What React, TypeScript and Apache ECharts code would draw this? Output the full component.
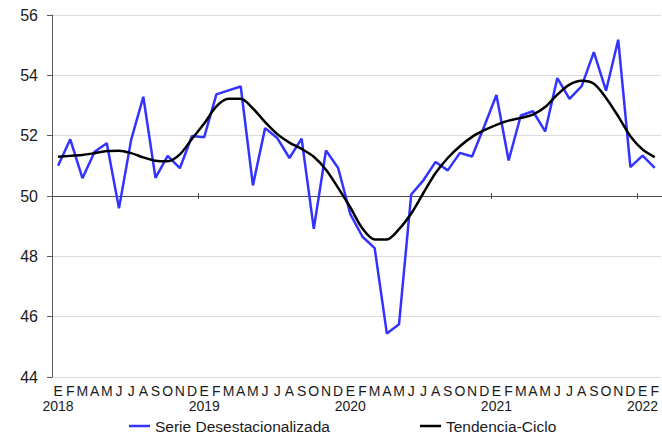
import React, { useEffect, useRef } from "react";
import * as echarts from "echarts";

const monthLetters = ["E", "F", "M", "A", "M", "J", "J", "A", "S", "O", "N", "D"];
const years = ["2018", "2019", "2020", "2021", "2022"];
const pointCount = 50;

const serieDesestacionalizada = [
  51.0, 51.88, 50.59, 51.47, 51.75, 49.59, 51.86, 53.29, 50.6, 51.33, 50.92, 51.99,
  51.95, 53.37, 53.5, 53.63, 50.35, 52.25, 51.92, 51.26, 51.9, 48.91, 51.51, 50.93,
  49.4, 48.65, 48.27, 45.44, 45.75, 50.05, 50.52, 51.13, 50.85, 51.43, 51.31, 52.31,
  53.35, 51.18, 52.67, 52.81, 52.14, 53.91, 53.22, 53.64, 54.77, 53.49, 55.18, 50.96,
  51.34, 50.93,
];

const tendenciaCiclo = [
  51.3, 51.33, 51.36, 51.42, 51.49, 51.5, 51.42, 51.28, 51.17, 51.15, 51.38, 51.9,
  52.4, 52.97, 53.22, 53.22, 52.9, 52.45, 52.05, 51.77, 51.56, 51.3, 50.87, 50.27,
  49.62, 48.92, 48.56, 48.56, 48.9, 49.42, 50.1, 50.76, 51.26, 51.65, 51.96, 52.18,
  52.36, 52.5, 52.59, 52.7, 52.95, 53.36, 53.69, 53.82, 53.72, 53.25, 52.64, 51.98,
  51.54, 51.29,
];

const categories: string[] = [];
for (let i = 0; i < pointCount; i++) {
  const m = monthLetters[i % 12];
  const y = years[Math.floor(i / 12)];
  categories.push(i % 12 === 0 ? m + "\n" + y : m);
}

const FONT = "Liberation Sans";

export default function App() {
  const ref = useRef<HTMLDivElement>(null);
  useEffect(() => {
    if (!ref.current) return;
    const chart = echarts.init(ref.current, null, { renderer: "svg" });
    const yearTick = (index: number) => index > 0 && index % 12 === 0;
    chart.setOption({
      animation: false,
      backgroundColor: "#ffffff",
      textStyle: { fontFamily: FONT },
      grid: [
        { left: 52, top: 15, width: 611, height: 362 },
        { left: 52, top: 15, width: 611, height: 181 },
      ],
      xAxis: [
        {
          type: "category",
          gridIndex: 0,
          data: categories,
          boundaryGap: true,
          axisLine: { show: false },
          axisTick: { show: false },
          splitLine: { show: false },
          axisLabel: {
            interval: 0,
            margin: 6,
            fontSize: 14,
            lineHeight: 15,
            color: "#1a1a1a",
            fontFamily: FONT,
          },
        },
        {
          type: "category",
          gridIndex: 1,
          position: "bottom",
          offset: 0,
          data: categories,
          boundaryGap: true,
          axisLine: { show: true, lineStyle: { color: "#4d4d4d", width: 1 } },
          axisTick: {
            show: true,
            interval: yearTick,
            length: 3,
            lineStyle: { color: "#4d4d4d", width: 1 },
          },
          axisLabel: { show: false },
          splitLine: { show: false },
        },
        {
          type: "category",
          gridIndex: 1,
          position: "bottom",
          offset: 0,
          data: categories,
          boundaryGap: true,
          axisLine: { show: false },
          axisTick: {
            show: true,
            inside: true,
            interval: yearTick,
            length: 3,
            lineStyle: { color: "#4d4d4d", width: 1 },
          },
          axisLabel: { show: false },
          splitLine: { show: false },
        },
      ],
      yAxis: [
        {
          type: "value",
          gridIndex: 0,
          min: 44,
          max: 56,
          interval: 2,
          axisLine: { show: true, lineStyle: { color: "#595959", width: 1 } },
          axisTick: { show: true, length: 5, lineStyle: { color: "#595959" } },
          splitLine: { show: true, lineStyle: { color: "#dcdcdc", width: 1 } },
          axisLabel: { fontSize: 16, color: "#1a1a1a", margin: 14, fontFamily: FONT },
        },
        { type: "value", gridIndex: 1, show: false },
      ],
      legend: [
        {
          data: ["Serie Desestacionalizada"],
          left: 124,
          top: 413,
          icon: "rect",
          itemWidth: 21,
          itemHeight: 2.5,
          textStyle: { fontSize: 15.5, color: "#1a1a1a", fontFamily: FONT },
        },
        {
          data: ["Tendencia-Ciclo"],
          left: 415,
          top: 413,
          icon: "rect",
          itemWidth: 21,
          itemHeight: 2.5,
          textStyle: { fontSize: 15.5, color: "#1a1a1a", fontFamily: FONT },
        },
      ],
      series: [
        {
          name: "Serie Desestacionalizada",
          type: "line",
          xAxisIndex: 0,
          yAxisIndex: 0,
          data: serieDesestacionalizada,
          symbol: "none",
          color: "#3333ff",
          lineStyle: { color: "#3333ff", width: 2.5 },
          z: 3,
        },
        {
          name: "Tendencia-Ciclo",
          type: "line",
          xAxisIndex: 0,
          yAxisIndex: 0,
          data: tendenciaCiclo,
          symbol: "none",
          smooth: 0.3,
          color: "#000000",
          lineStyle: { color: "#000000", width: 2.5 },
          z: 4,
        },
      ],
    });
    return () => chart.dispose();
  }, []);
  return (
    <div
      ref={ref}
      style={{ position: "absolute", left: 0, top: 0, width: 662, height: 436 }}
    />
  );
}
